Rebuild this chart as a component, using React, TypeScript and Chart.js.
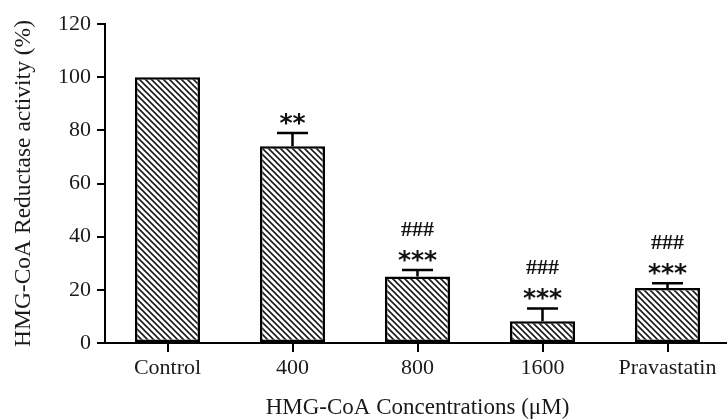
import React, { useEffect, useRef } from 'react';
import { Chart, registerables } from 'chart.js';

Chart.register(...registerables);

const categories = ['Control', '400', '800', '1600', 'Pravastatin'];
const activity = [100, 74, 25, 8.2, 20.7];
const sem = [0, 5, 2.5, 4.8, 1.8];
const starLabels = ['', '**', '***', '***', '***'];
const hashLabels = ['', '', '###', '###', '###'];
const yTicks = [0, 20, 40, 60, 80, 100, 120];
const xTitle = 'HMG-CoA Concentrations (μM)';
const yTitle = 'HMG-CoA Reductase activity (%)';

const SERIF = '"Liberation Serif", "Times New Roman", serif';

function makeHatch(): CanvasPattern | string {
  const s = 6;
  const c = document.createElement('canvas');
  c.width = s;
  c.height = s;
  const g = c.getContext('2d');
  if (!g) return '#fff';
  g.fillStyle = '#fff';
  g.fillRect(0, 0, s, s);
  g.strokeStyle = '#1a1a1a';
  g.lineWidth = 1.6;
  g.beginPath();
  g.moveTo(-1, -1);
  g.lineTo(s + 1, s + 1);
  g.moveTo(-2, s - 2);
  g.lineTo(2, s + 2);
  g.moveTo(s - 2, -2);
  g.lineTo(s + 2, 2);
  g.stroke();
  return g.createPattern(c, 'repeat') || '#fff';
}

const errorPlugin = {
  id: 'errorBarsAndMarks',
  afterDatasetsDraw(chart: any) {
    const { ctx } = chart;
    const y = chart.scales.y;
    const meta = chart.getDatasetMeta(0);
    ctx.save();
    meta.data.forEach((bar: any, i: number) => {
      const v = activity[i];
      const e = sem[i];
      const cx = bar.x;
      const capY = y.getPixelForValue(v + e);
      if (e > 0) {
        const baseY = y.getPixelForValue(v);
        ctx.strokeStyle = '#000';
        ctx.lineWidth = 2.5;
        ctx.beginPath();
        ctx.moveTo(cx, baseY);
        ctx.lineTo(cx, capY);
        ctx.moveTo(cx - 15.5, capY);
        ctx.lineTo(cx + 15.5, capY);
        ctx.stroke();
      }
      ctx.fillStyle = '#111';
      ctx.textAlign = 'center';
      ctx.textBaseline = 'alphabetic';
      if (starLabels[i]) {
        ctx.font = 'bold 25px "DejaVu Sans"';
        ctx.fillText(starLabels[i], cx, capY - 2);
      }
      if (hashLabels[i]) {
        ctx.font = 'bold 22px "Liberation Serif"';
        ctx.fillText(hashLabels[i], cx, capY - 34);
      }
    });
    ctx.restore();
  },
};

export default function App() {
  const ref = useRef<HTMLCanvasElement | null>(null);

  useEffect(() => {
    if (!ref.current) return;
    const hatch = makeHatch();
    const chart = new Chart(ref.current, {
      type: 'bar',
      data: {
        labels: categories,
        datasets: [
          {
            data: activity,
            backgroundColor: hatch as any,
            borderColor: '#000',
            borderWidth: 2.5,
            borderSkipped: false,
            barPercentage: 0.52,
            categoryPercentage: 1,
          },
        ],
      },
      options: {
        animation: false,
        responsive: false,
        layout: { padding: { top: 24, left: 0, right: 0, bottom: 0 } },
        plugins: { legend: { display: false }, tooltip: { enabled: false } },
        scales: {
          x: {
            type: 'category',
            offset: true,
            grid: {
              display: true,
              drawOnChartArea: false,
              drawTicks: true,
              tickLength: 9,
              color: '#000',
              lineWidth: 2,
              offset: false,
            },
            border: { display: true, color: '#000', width: 2 },
            ticks: {
              color: '#1a1a1a',
              font: { family: SERIF, size: 22 },
              padding: 3,
              maxRotation: 0,
              autoSkip: false,
            },
            title: {
              display: true,
              text: xTitle,
              color: '#1a1a1a',
              font: { family: SERIF, size: 23, lineHeight: 1 },
              padding: 0,
            },
            afterFit: (s: any) => {
              s.height = 76;
            },
          },
          y: {
            min: 0,
            max: 120,
            grid: {
              display: true,
              drawOnChartArea: false,
              drawTicks: true,
              tickLength: 8,
              color: '#000',
              lineWidth: 2,
            },
            border: { display: true, color: '#000', width: 2 },
            ticks: {
              color: '#1a1a1a',
              font: { family: SERIF, size: 22 },
              padding: 6,
            },
            afterBuildTicks: (s: any) => {
              s.ticks = yTicks.map((v) => ({ value: v }));
            },
            title: {
              display: true,
              text: yTitle,
              color: '#1a1a1a',
              font: { family: SERIF, size: 23.5, lineHeight: 1 },
              padding: { top: 12, bottom: 0 },
            },
            afterFit: (s: any) => {
              s.width = 105;
            },
          },
        },
      },
      plugins: [errorPlugin],
    });
    return () => chart.destroy();
  }, []);

  return (
    <div
      style={{
        position: 'absolute',
        left: 0,
        top: 0,
        width: 727,
        height: 419,
        overflow: 'hidden',
        background: '#fff',
      }}
    >
      <canvas ref={ref} width={730} height={419} style={{ display: 'block' }} />
    </div>
  );
}
